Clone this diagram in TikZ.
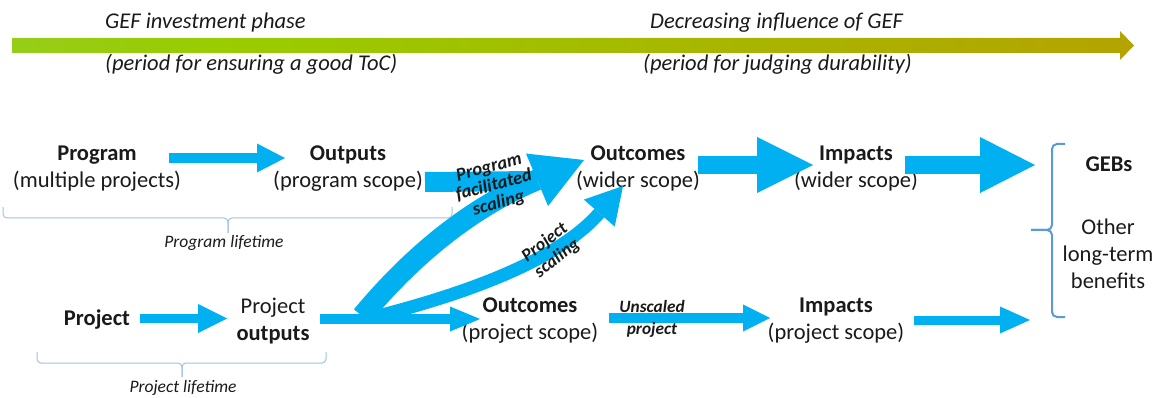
\documentclass[tikz,border=0pt]{standalone}
\usepackage{fontspec}
\setmainfont{Carlito}
\usetikzlibrary{arrows.meta}
\definecolor{arrowblue}{HTML}{00B0F0}
\definecolor{txtc}{HTML}{1A1A1A}
\definecolor{bracelight}{HTML}{9DC3E6}
\definecolor{bracedark}{HTML}{5B9BD5}
\definecolor{gA}{HTML}{8FCF50}
\definecolor{gB}{HTML}{99CC00}
\definecolor{gC}{HTML}{C48A00}
\pgfdeclarehorizontalshading{gefbar}{100bp}{color(0bp)=(gA); color(35bp)=(gB); color(100bp)=(gC)}
\tikzset{
  lbl/.style={font=\fontsize{22.5}{27}\selectfont, text=txtc, inner sep=0pt, align=center},
  toplbl/.style={font=\fontsize{22.5}{27}\selectfont\itshape, text=txtc, inner sep=0pt},
  lifelbl/.style={font=\fontsize{17.5}{21}\selectfont\itshape, text=txtc, inner sep=0pt},
  arlbl/.style={text=txtc, inner sep=0pt, align=center},
  flow/.style={draw=arrowblue, line join=miter},
  head/.style 2 args={arrows={-Triangle[length=#1,width=#2,line width=0pt 0 0]}},
  lifebrace/.style={draw=bracelight, line width=1pt, rounded corners=4pt},
  gebbrace/.style={draw=bracedark, line width=2pt, rounded corners=5pt},
}
\begin{document}
\begin{tikzpicture}[x=1pt,y=-1pt]
\useasboundingbox (0,0) rectangle (1159,398);

% top gradient arrow
\shade[shading=gefbar] (12,38) -- (1120,38) -- (1120,31) -- (1134,45.5) -- (1120,60) -- (1120,53) -- (12,53) -- cycle;
\node[toplbl, anchor=west] (phaseA) at (105,22.5) {GEF investment phase};
\node[toplbl, anchor=west] (phaseB) at (105,64) {(period for ensuring a good ToC)};
\node[toplbl, anchor=west] (phaseC) at (650,22.5) {Decreasing influence of GEF};
\node[toplbl, anchor=west] (phaseD) at (643,64) {(period for judging durability)};

% main nodes
\node[lbl] (prog) at (97,168.5) {\textbf{Program}\\(multiple projects)};
\node[lbl] (outp) at (348,168.5) {\textbf{Outputs}\\(program scope)};
\node[lbl] (outw) at (638,168.5) {\textbf{Outcomes}\\(wider scope)};
\node[lbl] (impw) at (856,168.5) {\textbf{Impacts}\\(wider scope)};
\node[lbl] (gebs) at (1109,164) {\textbf{GEBs}};
\node[lbl] (other) at (1108,254) {Other\\long-term\\benefits};
\node[lbl] (proj) at (97,320) {\textbf{Project}};
\node[lbl] (projout) at (273,321.5) {Project\\\textbf{outputs}};
\node[lbl] (outpp) at (530,320.5) {\textbf{Outcomes}\\(project scope)};
\node[lbl] (imppp) at (836,320.5) {\textbf{Impacts}\\(project scope)};

% connector end points
\coordinate (a1s) at (169,158);   \coordinate (a1e) at (285,158);
\coordinate (a2s) at (425,182);   \coordinate (a2e) at (537,181);
\coordinate (a3s) at (698,165);   \coordinate (a3e) at (813,165);
\coordinate (a4s) at (905,165);   \coordinate (a4e) at (1035,165);
\coordinate (b1s) at (140,318.5); \coordinate (b1e) at (227,318.5);
\coordinate (b2s) at (320,319);   \coordinate (b2e) at (480,319);
\coordinate (b3s) at (609,318);   \coordinate (b3e) at (770,318);
\coordinate (b4s) at (914,320);   \coordinate (b4e) at (1030,320);
\coordinate (c1s) at (362,316);   \coordinate (c1e) at (584,160);
\coordinate (c2s) at (378,316);   \coordinate (c2e) at (623,186);

% arrows
\draw[flow, line width=10pt, head={28pt}{29pt}] (a1s) -- (a1e);
\draw[flow, line width=20pt] (a2s) -- (a2e);
\draw[flow, line width=21pt, head={51pt}{57pt}] (c1s) .. controls (412,256) and (470,208) .. (c1e);
\draw[flow, line width=13pt, head={36pt}{41pt}] (c2s) .. controls (475,291) and (560,258) .. (c2e);
\draw[flow, line width=18pt, head={56pt}{56pt}] (a3s) -- (a3e);
\draw[flow, line width=18pt, head={55pt}{56pt}] (a4s) -- (a4e);
\draw[flow, line width=9pt, head={29pt}{29pt}] (b1s) -- (b1e);
\draw[flow, line width=10pt, head={30pt}{25pt}] (b2s) -- (b2e);
\draw[flow, line width=10pt, head={27pt}{27pt}] (b3s) -- (b3e);
\draw[flow, line width=9pt, head={30pt}{27pt}] (b4s) -- (b4e);

% arrow labels
\node[arlbl, rotate=15, font=\fontsize{18.5}{18.5}\selectfont\bfseries\itshape] (pfs) at (494,186) {Program\\facilitated\\scaling};
\node[arlbl, rotate=38, font=\fontsize{18}{20}\selectfont\bfseries\itshape] (psc) at (551,250.5) {Project\\scaling};
\node[arlbl, font=\fontsize{17.3}{22}\selectfont\bfseries\itshape] (unsc) at (652,319) {Unscaled\\project};

% braces
\draw[lifebrace] (3,207) -- (3,218) -- (228,218) -- (228,233);
\draw[lifebrace] (452,207) -- (452,218) -- (228,218) -- (228,233);
\node[lifelbl] (proglife) at (224,243) {Program lifetime};
\draw[lifebrace] (37,352) -- (37,363) -- (182,363) -- (182,377);
\draw[lifebrace] (326,352) -- (326,363) -- (182,363) -- (182,377);
\node[lifelbl] (projlife) at (183,388) {Project lifetime};
\draw[gebbrace] (1065,144) -- (1052,144) -- (1052,230) -- (1031,230);
\draw[gebbrace] (1065,317) -- (1052,317) -- (1052,230) -- (1031,230);
\end{tikzpicture}
\end{document}
